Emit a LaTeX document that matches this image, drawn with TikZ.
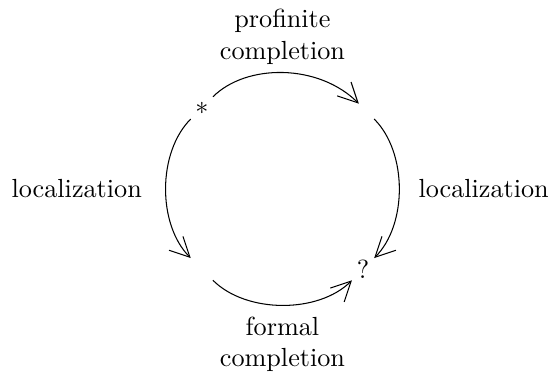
\documentclass[tikz,border=0pt]{standalone}
\usepackage{amsmath}
\usepackage{amssymb}
\usetikzlibrary{arrows.meta}

\tikzset{
	cyc/.style={->, shorten <=6pt, shorten >=6pt},
	lbl/.style={align=center, inner sep=0pt}
}

\begin{document}
\begin{tikzpicture}[>={Straight Barb[length=7.5pt,width=7.5pt]}]

	\useasboundingbox (-3.79,-2.49) rectangle (3.59,2.53);

	% corners of the square
	\node[inner sep=0pt] (star) at (135:1.53) {$*$};
	\coordinate (pc) at (45:1.53);
	\node[inner sep=0pt] (query) at (-45:1.53) {?};
	\coordinate (fc) at (225:1.53);

	\draw[cyc, shorten >=2.3pt] (star.center) to[bend left=45] (pc);
	\draw[cyc] (pc) to[bend left=45] (query.center);
	\draw[cyc] (star.center) to[bend right=45] (fc);
	\draw[cyc] (fc) to[bend right=45] (query.center);

	% labels
	\node[lbl] (prof) at (0,2.035) {profinite\\completion};
	\node[lbl] (form) at (0,-2.09) {formal\\completion};
	\node[lbl] (locl) at (-2.76,0) {localization};
	\node[lbl] (locr) at (2.70,0) {localization};

\end{tikzpicture}
\end{document}
